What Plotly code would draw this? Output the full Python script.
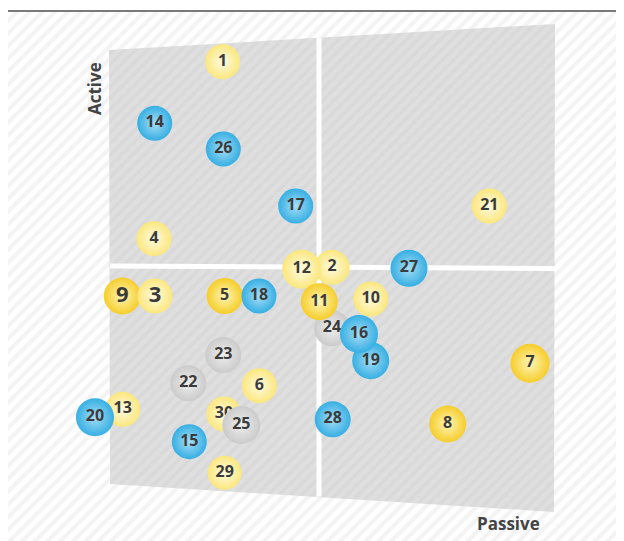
import plotly.graph_objects as go

# ---- data ----
ids = [1, 14, 26, 17, 4, 21, 27, 2, 12, 9, 3, 5, 18, 24, 11, 10, 19, 16,
       23, 22, 6, 13, 20, 30, 25, 15, 29, 28, 7, 8]
xs = [222.7, 154.7, 223.3, 295.7, 154.0, 489.3, 409.0, 332.0, 301.7, 122.3,
      155.0, 224.7, 259.0, 332.0, 319.3, 370.7, 370.7, 359.0,
      223.3, 188.3, 259.3, 122.7, 95.0, 224.0, 241.3, 189.3, 224.7, 332.7,
      530.0, 447.7]
ys = [61.7, 123.3, 149.0, 206.0, 238.7, 206.0, 268.3, 267.3, 269.3, 296.0,
      296.0, 296.0, 296.0, 328.3, 301.7, 299.0, 360.7, 334.0,
      355.0, 383.3, 385.7, 409.3, 417.3, 414.0, 425.0, 441.7, 472.7, 419.3,
      363.3, 424.0]
groups = ["light", "blue", "blue", "blue", "light", "light", "blue", "light",
          "light", "gold", "light", "gold", "blue", "grey", "gold", "light",
          "blue", "blue", "grey", "grey", "light", "light", "blue", "light",
          "grey", "blue", "light", "blue", "gold", "gold"]
sizes = [35, 35, 35, 35, 35, 35, 37, 35, 39, 37, 35, 36, 35, 36, 37, 35, 37,
         38, 36, 36, 35, 35, 38, 35, 38, 35, 34, 36, 39, 37]
big_labels = [9, 3]

x_label = "Passive"
y_label = "Active"

# window geometry (plot units)
win_top = [(109, 50), (555, 24)]
win_bottom = [(110, 484), (554, 512)]
v_div = [(319, 37.5), (319, 496.5)]
h_div = [(110, 266), (555, 268.5)]

edge_col = {"gold": "#f6cd2a", "light": "#fbe77c", "blue": "#36afe3", "grey": "#cbcbcb"}
center_col = {"gold": "#fff6b8", "light": "#fffbe4", "blue": "#a6ddf5", "grey": "#eeeeee"}

W, H = 624, 541
OFF = 8  # page body margin

fig = go.Figure()

# hatched background
fig.add_trace(go.Scatter(
    x=[8, W, W, 8, 8], y=[12, 12, H, H, 12], mode="none", fill="toself",
    fillcolor="#ffffff",
    fillpattern=dict(shape="/", bgcolor="#ffffff", fgcolor="#e8e8e8",
                     size=9, solidity=0.45),
    hoverinfo="skip", showlegend=False))

# window quad
qx = [win_top[0][0], win_top[1][0], win_bottom[1][0], win_bottom[0][0], win_top[0][0]]
qy = [win_top[0][1], win_top[1][1], win_bottom[1][1], win_bottom[0][1], win_top[0][1]]
fig.add_trace(go.Scatter(
    x=qx, y=qy, mode="none", fill="toself", fillcolor="#dddddd",
    fillpattern=dict(shape="/", bgcolor="#dfdfdf", fgcolor="#d3d3d3",
                     size=8, solidity=0.45),
    hoverinfo="skip", showlegend=False))

# dividers
for seg in (v_div, h_div):
    fig.add_trace(go.Scatter(
        x=[seg[0][0], seg[1][0]], y=[seg[0][1], seg[1][1]], mode="lines",
        line=dict(color="#ffffff", width=5), hoverinfo="skip", showlegend=False))

# bubbles: one trace each so that overlapping bubbles hide the labels below
for i, x, y, g, s in zip(ids, xs, ys, groups, sizes):
    fig.add_trace(go.Scatter(
        x=[x], y=[y], mode="markers+text",
        text=[str(i)], textposition="middle center",
        textfont=dict(family="Open Sans", color="#3b3b3b", weight="bold",
                      size=22 if i in big_labels else 16),
        marker=dict(size=s, color=edge_col[g],
                    gradient=dict(type="radial", color=center_col[g]),
                    line=dict(width=0), opacity=1),
        hoverinfo="text", showlegend=False))

fig.add_shape(type="line", x0=8, x1=W, y0=11, y1=11,
              line=dict(color="#7a7a7a", width=2))

fig.add_annotation(x=94, y=89, text=y_label, showarrow=False, textangle=-90,
                   font=dict(family="Open Sans", size=17, color="#444444", weight="bold"))
fig.add_annotation(x=508, y=523, text=x_label, showarrow=False,
                   font=dict(family="Open Sans", size=17, color="#444444", weight="bold"))

fig.update_layout(
    width=W - OFF, height=H - OFF, margin=dict(l=0, r=0, t=0, b=0),
    paper_bgcolor="#ffffff", plot_bgcolor="#ffffff",
    xaxis=dict(range=[OFF, W], visible=False, fixedrange=True),
    yaxis=dict(range=[H, OFF], visible=False, fixedrange=True),
)

fig.write_html("out.html")
